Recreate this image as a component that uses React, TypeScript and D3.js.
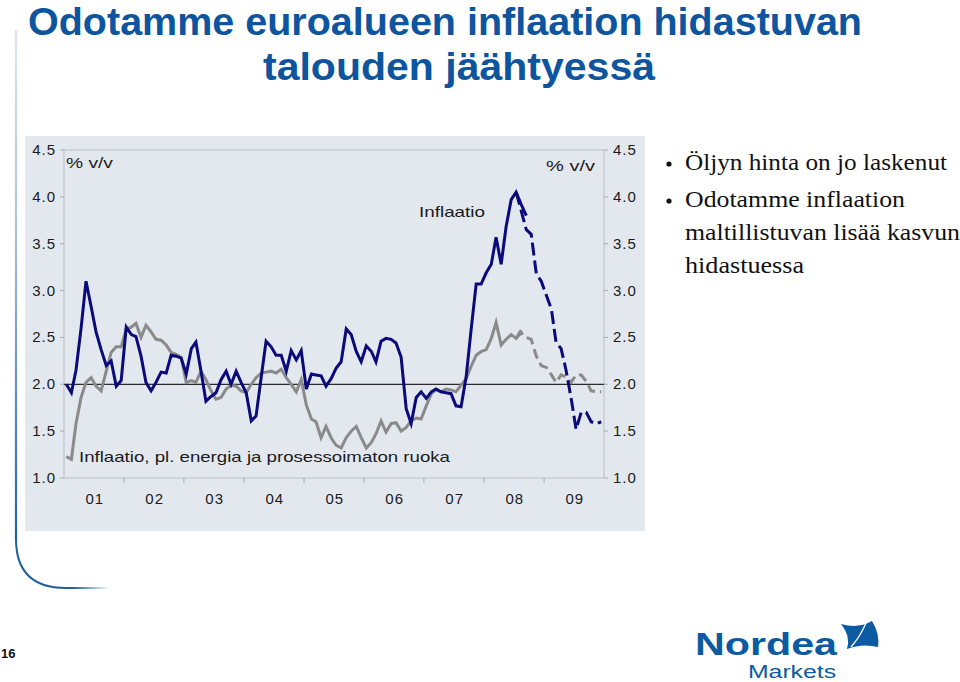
import React from 'react';
import * as d3 from 'd3';

// ---- data (monthly, Jan 2001 = index 0) ----
const yTicks = [1.0, 1.5, 2.0, 2.5, 3.0, 3.5, 4.0, 4.5];
const yearLabels = ['01', '02', '03', '04', '05', '06', '07', '08', '09'];

// HICP inflation, actual (Jan 2001 .. Sep 2008)
const inflation = [
  2.0, 1.91, 2.15, 2.6, 3.1, 2.83, 2.56, 2.37, 2.2, 2.25, 1.98, 2.04,
  2.61, 2.53, 2.51, 2.3, 2.02, 1.93, 2.02, 2.13, 2.12, 2.31, 2.3, 2.28,
  2.11, 2.38, 2.45, 2.14, 1.82, 1.87, 1.91, 2.05, 2.14, 2.0, 2.14, 2.02,
  1.91, 1.61, 1.66, 2.07, 2.46, 2.4, 2.31, 2.31, 2.14, 2.36, 2.26, 2.36,
  1.95, 2.11, 2.1, 2.09, 1.98, 2.06, 2.17, 2.24, 2.59, 2.53, 2.35, 2.24,
  2.41, 2.35, 2.24, 2.46, 2.49, 2.48, 2.44, 2.29, 1.74, 1.58, 1.86, 1.92,
  1.85, 1.92, 1.95, 1.92, 1.91, 1.9, 1.77, 1.76, 2.08, 2.58, 3.07, 3.07,
  3.19, 3.28, 3.57, 3.28, 3.68, 3.97, 4.05, 3.92, 3.8,
];
// HICP inflation, forecast (from Jul 2008 .. Dec 2009)
const inflationForecastStart = 90;
const inflationForecast = [
  4.05, 3.85, 3.65, 3.6, 3.18, 3.1, 2.95, 2.8, 2.45, 2.38, 2.15, 1.85,
  1.52, 1.7, 1.7, 1.6, 1.58, 1.6,
];

// Core inflation (excl. energy and unprocessed food), actual
const core = [
  1.23, 1.2, 1.58, 1.86, 2.02, 2.07, 1.98, 1.93, 2.14, 2.34, 2.4, 2.4,
  2.59, 2.61, 2.65, 2.5, 2.63, 2.56, 2.48, 2.47, 2.42, 2.34, 2.32, 2.29,
  2.02, 2.04, 2.02, 2.14, 2.05, 1.93, 1.84, 1.86, 1.95, 1.99, 1.98, 1.93,
  1.91, 2.0, 2.07, 2.12, 2.13, 2.14, 2.12, 2.16, 2.07, 2.0, 1.92, 2.05,
  1.78, 1.63, 1.6, 1.43, 1.55, 1.43, 1.35, 1.32, 1.43, 1.5, 1.55, 1.43,
  1.32, 1.38, 1.47, 1.61, 1.49, 1.58, 1.59, 1.5, 1.54, 1.61, 1.64, 1.63,
  1.77, 1.9, 1.94, 1.92, 1.95, 1.94, 1.92, 1.99, 2.06, 2.19, 2.31, 2.35,
  2.37, 2.49, 2.66, 2.42, 2.48, 2.53, 2.49, 2.58,
];
const coreForecastStart = 90;
const coreForecast = [
  2.49, 2.55, 2.5, 2.48, 2.3, 2.2, 2.18, 2.1, 2.02, 2.1, 2.08, 2.02,
  2.1, 2.1, 2.03, 1.93, 1.92, 1.92,
];

const titleLines = ['Odotamme euroalueen inflaation hidastuvan', 'talouden jäähtyessä'];
const bulletLines = [
  { text: 'Öljyn hinta on jo laskenut', bullet: true },
  { text: 'Odotamme inflaation', bullet: true },
  { text: 'maltillistuvan lisää kasvun', bullet: false },
  { text: 'hidastuessa', bullet: false },
];

const NAVY = '#0a0a7a';
const GREY = '#8a8a8a';
const BLUE = '#0b5aa2';

export default function App() {
  const x = d3
    .scaleTime()
    .domain([new Date(2001, 0, 1), new Date(2010, 0, 1)])
    .range([64, 604]);
  const y = d3.scaleLinear().domain([1, 4.5]).range([478, 150]);
  const monthDate = (i: number) => new Date(2001, i, 15);

  const mkLine = (start: number) =>
    d3
      .line<number>()
      .x((_, i) => x(monthDate(i + start)))
      .y((d) => y(d));

  const yearTicks = d3.range(1, 9).map((k) => x(new Date(2001 + k, 0, 1)));
  const yearMid = yearLabels.map((_, k) => x(new Date(2001 + k, 6, 1)));

  const chartFont = "'Liberation Sans', Arial, sans-serif";

  return (
    <div style={{ position: 'absolute', left: 0, top: 0 }}>
      <svg width={960} height={682} style={{ display: 'block', background: '#fff' }}>
        <defs>
          <linearGradient id="edge" gradientUnits="userSpaceOnUse" x1="0" y1="30" x2="0" y2="545">
            <stop offset="0" stopColor="#dce6f0" />
            <stop offset="0.4" stopColor="#a7c1db" />
            <stop offset="1" stopColor="#1f5f9e" />
          </linearGradient>
          <linearGradient id="edgeH" gradientUnits="userSpaceOnUse" x1="16" y1="0" x2="110" y2="0">
            <stop offset="0" stopColor="#1f5f9e" />
            <stop offset="0.6" stopColor="#1f5f9e" />
            <stop offset="1" stopColor="#1f5f9e" stopOpacity="0" />
          </linearGradient>
        </defs>

        {/* left decorative border */}
        <path d="M16,30 L16,540" stroke="url(#edge)" strokeWidth={2.2} fill="none" />
        <path d="M16,539 Q16,588 66,588 L110,588" stroke="url(#edgeH)" strokeWidth={2} fill="none" />

        {/* title */}
        <g fill="#0d559f" fontFamily={chartFont} fontWeight="bold" fontSize={39}>
          <text x={28} y={35} textLength={834} lengthAdjust="spacingAndGlyphs">
            {titleLines[0]}
          </text>
          <text x={263} y={80} textLength={392} lengthAdjust="spacingAndGlyphs">
            {titleLines[1]}
          </text>
        </g>

        {/* chart panel */}
        <rect x={25} y={136} width={620} height={395} fill="#e3e8ee" />

        {/* plot frame */}
        <rect x={64} y={150} width={540} height={328} fill="none" stroke="#b9bec5" strokeWidth={1} />

        {/* y ticks */}
        {yTicks.map((t) => (
          <g key={t}>
            <line x1={60} x2={64} y1={y(t)} y2={y(t)} stroke="#a8adb4" />
            <line x1={604} x2={608} y1={y(t)} y2={y(t)} stroke="#a8adb4" />
          </g>
        ))}
        {/* x ticks */}
        {yearTicks.map((px, k) => (
          <line key={k} x1={px} x2={px} y1={478} y2={483} stroke="#a8adb4" />
        ))}

        {/* axis labels */}
        <g fontFamily={chartFont} fontSize={15} fill="#1a1a1a" letterSpacing={1}>
          {yTicks.map((t) => (
            <text key={'l' + t} x={56} y={y(t) + 5} textAnchor="end">
              {t.toFixed(1)}
            </text>
          ))}
          {yTicks.map((t) => (
            <text key={'r' + t} x={613} y={y(t) + 5}>
              {t.toFixed(1)}
            </text>
          ))}
          {yearLabels.map((lab, k) => (
            <text key={lab} x={yearMid[k] + 1} y={504} textAnchor="middle">
              {lab}
            </text>
          ))}
          <text x={66} y={168} textLength={47} lengthAdjust="spacingAndGlyphs" letterSpacing={0}>
            % v/v
          </text>
          <text x={546} y={171} textLength={49} lengthAdjust="spacingAndGlyphs" letterSpacing={0}>
            % v/v
          </text>
          <text x={419} y={217} textLength={66} lengthAdjust="spacingAndGlyphs" letterSpacing={0}>
            Inflaatio
          </text>
          <text x={79} y={462} textLength={371} lengthAdjust="spacingAndGlyphs" letterSpacing={0}>
            Inflaatio, pl. energia ja prosessoimaton ruoka
          </text>
        </g>

        {/* 2.0 reference line */}
        <line x1={64} x2={604} y1={y(2)} y2={y(2)} stroke="#2b2b2b" strokeWidth={1.3} />

        {/* series */}
        <path d={mkLine(0)(core) || ''} fill="none" stroke={GREY} strokeWidth={3} />
        <path
          d={mkLine(coreForecastStart)(coreForecast) || ''}
          fill="none"
          stroke={GREY}
          strokeWidth={3}
          strokeDasharray="10,5"
        />
        <path d={mkLine(0)(inflation) || ''} fill="none" stroke={NAVY} strokeWidth={3} />
        <path
          d={mkLine(inflationForecastStart)(inflationForecast) || ''}
          fill="none"
          stroke={NAVY}
          strokeWidth={3}
          strokeDasharray="13,5"
        />

        {/* bullet text */}
        <g fontFamily="'Liberation Serif', 'DejaVu Serif', serif" fontSize={23} fill="#111">
          {bulletLines.map((b, i) => {
            const base = [170, 207, 240, 273][i];
            const widths = [262, 220, 275, 119];
            return (
              <g key={i}>
                {b.bullet && <circle cx={669} cy={base - 6} r={2.6} fill="#111" />}
                <text x={685} y={base} textLength={widths[i]} lengthAdjust="spacingAndGlyphs">
                  {b.text}
                </text>
              </g>
            );
          })}
        </g>

        {/* page number */}
        <text x={1} y={658} fontFamily={chartFont} fontWeight="bold" fontSize={13} fill="#111">
          16
        </text>

        {/* Nordea logo */}
        <g fill={BLUE} fontFamily={chartFont}>
          <text x={695} y={655} fontWeight="bold" fontSize={32} textLength={142} lengthAdjust="spacingAndGlyphs">
            Nordea
          </text>
          <text x={748} y={678} fontSize={17.5} textLength={88} lengthAdjust="spacingAndGlyphs">
            Markets
          </text>
          <path d="M841,624 Q858,629 872,621 Q880,634 878,647 Q862,643 847,649 Q851,636 841,624 Z" />
          <path d="M866,623 Q860,637 851,647" stroke="#fff" strokeWidth={1.3} fill="none" />
        </g>
      </svg>
    </div>
  );
}
